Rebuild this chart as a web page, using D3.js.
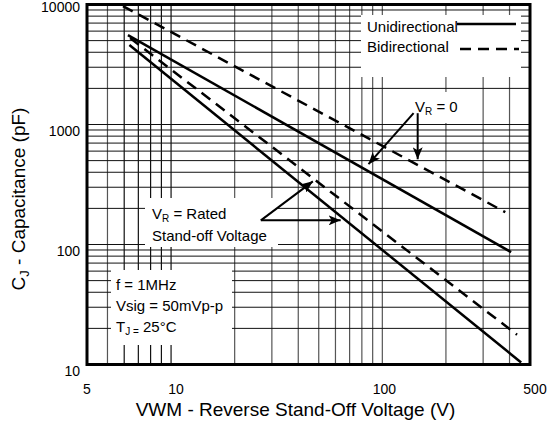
<!DOCTYPE html>
<html>
<head>
<meta charset="utf-8">
<script src="https://cdn.jsdelivr.net/npm/d3@7/dist/d3.min.js"></script>
<style>
  body { margin: 0; background: #fff; }
  svg { display: block; font-family: "Liberation Sans", Arial, sans-serif; }
</style>
</head>
<body>
<div id="chart"></div>
<script>
// reverse stand-off voltage (V) vs junction capacitance (pF), straight lines in log-log
const uniZeroV = [6.25, 407];
const uniZeroC = [5560, 86.4];
const biZeroV = [5.92, 382];
const biZeroC = [9700, 186];
const uniRatedV = [6.35, 454];
const uniRatedC = [4590, 10.4];
const biRatedV = [6.4, 434];
const biRatedC = [5250, 17.7];

const xTicks = [5, 10, 100, 500];
const yTicks = [10, 100, 1000, 10000];

const width = 554, height = 423;
const margin = { top: 4.5, right: 24, bottom: 58.5, left: 87 };

const svg = d3.select('#chart')
  .append('svg')
  .attr('width', width)
  .attr('height', height);

const x = d3.scaleLog().domain([4, 500]).range([margin.left, width - margin.right]);
const y = d3.scaleLog().domain([10, 10000]).range([height - margin.bottom, margin.top]);

const [x0, x1] = x.range();
const [y0, y1] = y.range();

// grid
svg.append('g')
  .selectAll('line')
  .data(x.ticks())
  .join('line')
  .attr('x1', d => x(d)).attr('x2', d => x(d))
  .attr('y1', y1).attr('y2', y0)
  .attr('stroke', d => (d >= 6 && d <= 10) ? '#111' : '#555')
  .attr('stroke-width', 1.2);

svg.append('g')
  .selectAll('line')
  .data(y.ticks())
  .join('line')
  .attr('x1', x0).attr('x2', x1)
  .attr('y1', d => y(d)).attr('y2', d => y(d))
  .attr('stroke', '#111')
  .attr('stroke-width', 1);

// white boxes that hide the grid under the labels
const boxes = [
  [361, 15, 160, 62],
  [409, 92, 60, 31],
  [145, 198, 133, 49],
  [111, 270, 121, 75]
];
svg.append('g')
  .selectAll('rect')
  .data(boxes)
  .join('rect')
  .attr('x', d => d[0]).attr('y', d => d[1])
  .attr('width', d => d[2]).attr('height', d => d[3])
  .attr('fill', '#fff');

// series
const series = [
  { v: uniZeroV, c: uniZeroC, dash: null },
  { v: biZeroV, c: biZeroC, dash: '11,7' },
  { v: uniRatedV, c: uniRatedC, dash: null },
  { v: biRatedV, c: biRatedC, dash: '11,7' }
];
const line = d3.line().x(d => x(d[0])).y(d => y(d[1]));

svg.append('g')
  .selectAll('path')
  .data(series)
  .join('path')
  .attr('d', s => line(d3.zip(s.v, s.c)))
  .attr('fill', 'none')
  .attr('stroke', '#000')
  .attr('stroke-width', 2.5)
  .attr('stroke-dasharray', s => s.dash);

// frame
svg.append('rect')
  .attr('x', x0).attr('y', y1)
  .attr('width', x1 - x0).attr('height', y0 - y1)
  .attr('fill', 'none')
  .attr('stroke', '#000')
  .attr('stroke-width', 3);

// tick labels
svg.append('g')
  .selectAll('text')
  .data(yTicks)
  .join('text')
  .attr('x', 80)
  .attr('y', d => d === 10000 ? 12 : y(d) + 11)
  .attr('text-anchor', 'end')
  .attr('font-size', 14)
  .text(d => d);

svg.append('g')
  .selectAll('text')
  .data(xTicks)
  .join('text')
  .attr('x', d => d === 5 ? x0 : d === 100 ? x(d) + 2 : x(d) + 5)
  .attr('y', 394)
  .attr('text-anchor', 'middle')
  .attr('font-size', 14)
  .text(d => d);

// axis titles
svg.append('text')
  .attr('x', 295.5)
  .attr('y', 416)
  .attr('text-anchor', 'middle')
  .attr('font-size', 19)
  .text('VWM - Reverse Stand-Off Voltage (V)');

const yt = svg.append('text')
  .attr('transform', 'translate(25,199) rotate(-90)')
  .attr('text-anchor', 'middle')
  .attr('font-size', 19);
yt.append('tspan').text('C');
yt.append('tspan').attr('font-size', 13).attr('dy', 4).text('J');
yt.append('tspan').attr('dy', -4).text(' - Capacitance (pF)');

// legend
const lg = svg.append('g').attr('font-size', 15);
lg.append('text').attr('x', 367).attr('y', 32).text('Unidirectional');
lg.append('text').attr('x', 367).attr('y', 52).text('Bidirectional');
lg.append('line').attr('x1', 457).attr('x2', 516).attr('y1', 24).attr('y2', 24)
  .attr('stroke', '#000').attr('stroke-width', 2.5);
lg.append('line').attr('x1', 460).attr('x2', 519).attr('y1', 49).attr('y2', 49)
  .attr('stroke', '#000').attr('stroke-width', 2.5).attr('stroke-dasharray', '11,7');

// annotations
const ann = svg.append('g').attr('font-size', 15);

const vr0 = ann.append('text').attr('x', 415).attr('y', 111.5);
vr0.append('tspan').text('V');
vr0.append('tspan').attr('font-size', 10).attr('dy', 3).text('R');
vr0.append('tspan').attr('dy', -3).text(' = 0');

const vrr = ann.append('text').attr('x', 152).attr('y', 219);
vrr.append('tspan').text('V');
vrr.append('tspan').attr('font-size', 10).attr('dy', 3).text('R');
vrr.append('tspan').attr('dy', -3).text(' = Rated');
ann.append('text').attr('x', 152).attr('y', 241).text('Stand-off Voltage');

ann.append('text').attr('x', 116).attr('y', 290).text('f = 1MHz');
ann.append('text').attr('x', 116).attr('y', 310.5).text('Vsig = 50mVp-p');
const tj = ann.append('text').attr('x', 116).attr('y', 331.5);
tj.append('tspan').text('T');
tj.append('tspan').attr('font-size', 10).attr('dy', 3).text('J =');
tj.append('tspan').attr('dy', -3).text(' 25°C');

// arrows, given in data coordinates [from, to]
const arrows = [
  [[140.6, 1242], [86, 467]],
  [[147, 1242], [147, 513]],
  [[26.6, 159], [46.9, 336]],
  [[26.6, 159], [63.5, 159]]
];

svg.append('defs').append('marker')
  .attr('id', 'head')
  .attr('markerUnits', 'userSpaceOnUse')
  .attr('viewBox', '0 0 12 10')
  .attr('markerWidth', 12).attr('markerHeight', 10)
  .attr('refX', 12).attr('refY', 5)
  .attr('orient', 'auto')
  .append('path')
  .attr('d', 'M0,0 L12,5 L0,10 L3,5 z')
  .attr('fill', '#000');

svg.append('g')
  .selectAll('line')
  .data(arrows)
  .join('line')
  .attr('x1', d => x(d[0][0])).attr('y1', d => y(d[0][1]))
  .attr('x2', d => x(d[1][0])).attr('y2', d => y(d[1][1]))
  .attr('stroke', '#000')
  .attr('stroke-width', 2)
  .attr('marker-end', 'url(#head)');
</script>
</body>
</html>
